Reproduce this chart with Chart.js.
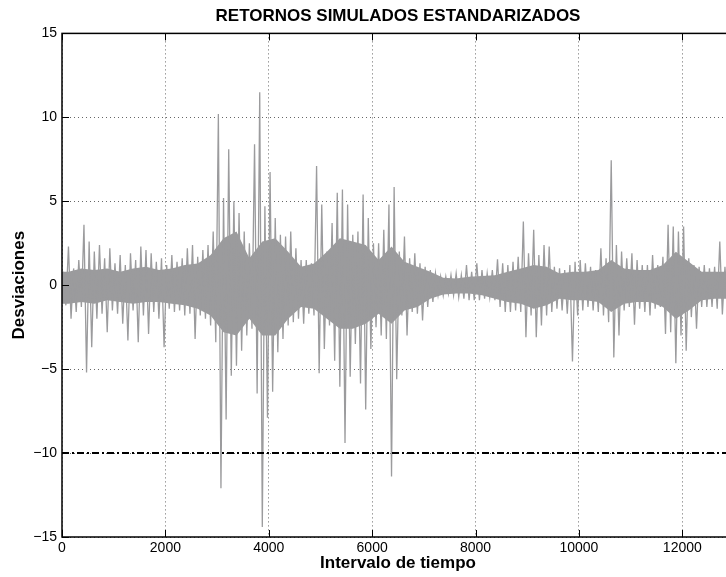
<!DOCTYPE html>
<html>
<head>
<meta charset="utf-8">
<script src="https://cdn.jsdelivr.net/npm/chart.js@4.4.1/dist/chart.umd.min.js"></script>
<style>
html, body { margin: 0; padding: 0; background: #fff; overflow: hidden; }
#wrap { width: 734px; height: 577px; }
</style>
</head>
<body>
<div id="wrap"><canvas id="retornos" width="734" height="577"></canvas></div>
<script>
// maximo y minimo de cada bloque de 100 observaciones
var binWidth = 100;
var maxima = [
  0.8, 2.3, 1.0, 1.5, 3.6, 2.6, 2.0, 2.4, 1.6, 2.2, 1.3, 1.8, 1.2, 1.9, 1.5, 2.3, 2.1, 1.9, 1.4, 1.6, 1.2,
  1.8, 1.4, 1.6, 2.2, 2.4, 1.7, 2.1, 2.4, 3.2, 10.2, 5.2, 8.1, 5.0, 4.3, 3.2, 2.5, 8.4, 11.5, 4.7, 6.75, 4.0,
  3.0, 2.9, 3.2, 2.2, 1.5, 1.5, 1.3, 7.1, 4.8, 2.0, 3.7, 5.5, 5.7, 4.8, 3.0, 3.2, 5.4, 4.0, 2.5, 2.5, 3.3, 4.8, 5.85,
  2.0, 2.9, 1.6, 1.9, 1.3, 1.1, 0.9, 0.7, 0.5, 0.5, 0.6, 0.7, 0.6, 1.2, 0.8, 1.3, 0.9, 0.7, 0.9, 1.55, 1.3,
  1.2, 1.4, 1.7, 3.8, 1.9, 3.3, 1.8, 2.4, 2.3, 1.1, 1.0, 0.9, 1.2, 1.4, 1.5, 1.3, 1.1, 0.9, 2.2, 1.6, 7.45, 2.4,
  2.0, 1.6, 1.9, 1.5, 1.2, 1.2, 1.8, 1.2, 1.7, 3.6, 3.5, 3.2, 3.5, 1.6, 1.2, 1.1, 1.2, 1.0, 1.1, 2.6, 1.1
];
var minima = [
  -1.2, -2.0, -1.6, -1.3, -5.2, -3.7, -2.0, -1.7, -2.8, -1.5, -1.7, -2.3, -3.3, -1.5, -3.4, -1.8, -2.9, -1.6, -2.0, -3.7, -1.4,
  -1.6, -1.5, -1.8, -1.7, -3.2, -1.8, -2.0, -2.4, -3.4, -12.1, -8.0, -5.4, -4.8, -3.9, -3.0, -2.6, -6.45, -14.4, -7.9, -6.35, -4.0,
  -3.2, -2.4, -2.2, -2.0, -2.3, -1.7, -1.8, -5.25, -3.8, -2.4, -4.5, -6.05, -9.4, -5.45, -3.5, -5.85, -7.4, -3.8, -2.5, -3.0, -3.2, -11.4, -5.6,
  -1.8, -3.0, -1.6, -1.7, -2.1, -1.3, -1.0, -0.6, -0.6, -0.5, -0.6, -0.7, -0.8, -0.9, -0.9, -0.9, -0.8, -0.7, -0.9, -1.3, -1.6,
  -1.6, -1.5, -1.6, -3.1, -1.8, -3.1, -2.4, -1.8, -1.6, -1.4, -1.5, -1.7, -4.55, -1.8, -1.5, -1.3, -1.5, -1.6, -1.8, -2.2, -4.3, -3.0,
  -1.5, -1.3, -2.35, -1.4, -1.6, -1.8, -1.4, -1.3, -2.9, -2.8, -4.65, -3.0, -3.9, -1.9, -2.6, -1.3, -1.3, -1.3, -1.4, -1.75, -1.2
];
// nucleo denso de la serie, bloques de 250 observaciones
var coreWidth = 250;
var coreSup = [
  0.8, 1.0, 0.9, 1.0, 0.8, 1.0, 1.1, 0.9, 1.0, 1.2, 1.3, 1.8, 2.8, 3.2, 1.6, 2.6, 2.8, 2.0, 1.1, 1.3,
  2.0, 2.8, 2.6, 2.4, 1.5, 2.3, 1.4, 1.1, 0.8, 0.45, 0.4, 0.5, 0.55, 0.6, 0.8, 1.0, 1.2, 1.1, 0.7, 0.8,
  0.8, 0.9, 1.5, 1.0, 0.9, 0.9, 1.2, 2.0, 1.4, 0.8, 0.8, 0.8
];
var coreInf = [
  -1.1, -1.0, -1.1, -0.9, -1.0, -1.1, -1.0, -1.0, -1.1, -1.2, -1.4, -1.8, -2.8, -3.0, -2.0, -3.0, -3.0, -2.0, -1.3, -1.4,
  -2.0, -2.6, -2.6, -2.3, -1.7, -2.3, -1.5, -1.3, -0.8, -0.55, -0.5, -0.5, -0.6, -0.8, -1.0, -1.1, -1.4, -1.2, -0.8, -0.9,
  -0.9, -1.0, -1.6, -1.1, -1.0, -1.0, -1.3, -2.0, -1.5, -0.9, -0.8, -0.8
];
var umbral = -10;
var xTicks = [0, 2000, 4000, 6000, 8000, 10000, 12000];
var xMin = 0, xMax = 13000;
var yMin = -15, yMax = 15, yStep = 5;

var serie = [];
for (var i = 0; i < maxima.length; i++) {
  serie.push({x: i * binWidth + 25, y: maxima[i]});
  serie.push({x: i * binWidth + 75, y: minima[i]});
}
var nucleoSup = [{x: xMin, y: coreSup[0]}], nucleoInf = [{x: xMin, y: coreInf[0]}];
for (var k = 0; k < coreSup.length; k++) {
  nucleoSup.push({x: k * coreWidth + coreWidth / 2, y: coreSup[k]});
  nucleoInf.push({x: k * coreWidth + coreWidth / 2, y: coreInf[k]});
}
nucleoSup.push({x: xMax, y: coreSup[coreSup.length - 1]});
nucleoInf.push({x: xMax, y: coreInf[coreInf.length - 1]});

var gris = '#9b9b9d';
var fuente = "'Liberation Sans', Arial, Helvetica, sans-serif";

// caja y marcas hacia dentro, estilo matlab
var cajaPlugin = {
  id: 'caja',
  afterDraw: function(chart) {
    var ctx = chart.ctx, a = chart.chartArea;
    var xs = chart.scales.x, ys = chart.scales.y;
    ctx.save();
    ctx.strokeStyle = '#000';
    ctx.lineWidth = 1;
    ctx.beginPath();
    xs.ticks.forEach(function(t) {
      var px = Math.round(xs.getPixelForValue(t.value)) + 0.5;
      ctx.moveTo(px, a.bottom); ctx.lineTo(px, a.bottom - 7);
      ctx.moveTo(px, a.top); ctx.lineTo(px, a.top + 7);
    });
    ys.ticks.forEach(function(t) {
      var py = Math.round(ys.getPixelForValue(t.value)) + 0.5;
      ctx.moveTo(a.left, py); ctx.lineTo(a.left + 7, py);
      ctx.moveTo(a.right, py); ctx.lineTo(a.right - 7, py);
    });
    ctx.stroke();
    ctx.lineWidth = 1.5;
    ctx.strokeRect(a.left, a.top, a.right - a.left, a.bottom - a.top);
    ctx.restore();
  }
};

var config = {
  type: 'line',
  data: {
    datasets: [{
      label: 'umbral',
      data: [{x: xMin, y: umbral}, {x: xMax, y: umbral}],
      borderColor: '#000',
      borderWidth: 2,
      borderDash: [7, 3, 2, 3],
      pointRadius: 0,
      fill: false,
      order: 0
    }, {
      label: 'Retornos',
      data: serie,
      borderColor: gris,
      borderWidth: 1.3,
      pointRadius: 0,
      tension: 0,
      fill: false,
      order: 1
    }, {
      label: 'nucleo sup',
      data: nucleoSup,
      borderWidth: 0,
      borderColor: gris,
      backgroundColor: gris,
      pointRadius: 0,
      fill: '+1',
      order: 2
    }, {
      label: 'nucleo inf',
      data: nucleoInf,
      borderWidth: 0,
      borderColor: gris,
      pointRadius: 0,
      fill: false,
      order: 3
    }]
  },
  options: {
    responsive: false,
    animation: false,
    layout: { padding: 0 },
    plugins: {
      legend: { display: false },
      tooltip: { enabled: false },
      title: {
        display: true,
        text: 'RETORNOS SIMULADOS ESTANDARIZADOS',
        color: '#000',
        fullSize: false,
        font: { family: fuente, size: 17, weight: 'bold' },
        padding: { top: 6, bottom: 7 }
      }
    },
    scales: {
      x: {
        type: 'linear',
        min: xMin,
        max: xMax,
        afterFit: function(s) { s.height = 40; s.paddingRight = 0; },
        afterBuildTicks: function(s) { s.ticks = xTicks.map(function(v) { return {value: v}; }); },
        ticks: {
          maxRotation: 0,
          autoSkip: false,
          padding: 3,
          color: '#000',
          font: { family: fuente, size: 14 },
          callback: function(v) { return String(v); }
        },
        grid: { color: 'rgba(0,0,0,0.6)', drawTicks: false },
        border: { display: false, dash: [1, 3] },
        title: {
          display: true,
          text: 'Intervalo de tiempo',
          color: '#000',
          font: { family: fuente, size: 17, weight: 'bold' },
          padding: { top: 0, bottom: 3 }
        }
      },
      y: {
        min: yMin,
        max: yMax,
        afterFit: function(s) { s.width = 62; },
        ticks: {
          stepSize: yStep,
          padding: 5,
          color: '#000',
          font: { family: fuente, size: 14 },
          callback: function(v) { return v < 0 ? '\u2212' + Math.abs(v) : String(v); }
        },
        grid: { color: 'rgba(0,0,0,0.6)', drawTicks: false },
        border: { display: false, dash: [1, 3] },
        title: {
          display: true,
          text: 'Desviaciones',
          color: '#000',
          font: { family: fuente, size: 17, weight: 'bold' },
          padding: { top: 9, bottom: 0 }
        }
      }
    }
  },
  plugins: [cajaPlugin]
};

var chartRetornos = new Chart(document.getElementById('retornos'), config);
</script>
</body>
</html>
